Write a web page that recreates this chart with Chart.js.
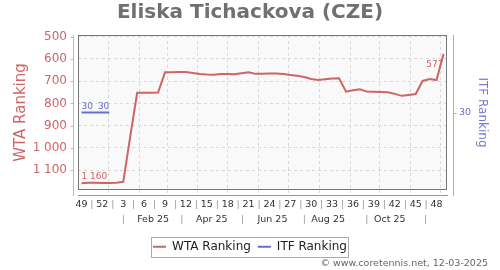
<!DOCTYPE html>
<html><head><meta charset="utf-8">
<script src="https://cdn.jsdelivr.net/npm/chart.js@4/dist/chart.umd.min.js"></script>
<style>html,body{margin:0;padding:0;background:#fff;}#wrap{width:500px;height:270px;position:relative;}</style>
</head><body><div id="wrap"><canvas id="c" width="500" height="270"></canvas></div>
<script>
// ---- data ----
const chartTitle = 'Eliska Tichackova (CZE)';
const footerText = '\u00A9 www.coretennis.net, 12-03-2025';
const startDate = '2024-12-05';
const weekNumbers = [49,50,51,52,1,2,3,4,5,6,7,8,9,10,11,12,13,14,15,16,17,18,19,20,21,22,23,24,25,26,27,28,29,30,31,32,33,34,35,36,37,38,39,40,41,42,43,44,45,46,47,48,49];
const wtaRanking = [1160,1157,1157,1158,1158,1157,1153,950,752,752,752,751,660,660,659,659,663,668,670,671,668,668,669,664,660,667,666,665,665,668,672,676,681,690,695,691,688,687,747,741,736,747,748,749,750,757,766,762,758,699,690,695,577];
const itfRanking = [30,30,30,30,30,null,null,null,null,null,null,null,null,null,null,null,null,null,null,null,null,null,null,null,null,null,null,null,null,null,null,null,null,null,null,null,null,null,null,null,null,null,null,null,null,null,null,null,null,null,null,null,null];
const wtaTicks = [500,600,700,800,900,1000,1100];
const itfTicks = [30];
const weekLabelEvery = 3;
const monthStarts = ['2025-01-01','2025-02-01','2025-03-01','2025-04-01','2025-05-01','2025-06-01','2025-07-01','2025-08-01','2025-09-01','2025-10-01','2025-11-01','2025-12-01'];
const monthLabels = ['Feb 25','Apr 25','Jun 25','Aug 25','Oct 25'];
const monthLabelDates = ['2025-02-15','2025-04-15','2025-06-15','2025-08-10','2025-10-11'];
const monthSepDates = ['2025-01-16','2025-03-16','2025-05-16','2025-07-17','2025-09-18','2025-11-16'];

// ---- helpers ----
const DAY = 86400000;
const toIdx = d => (Date.parse(d) - Date.parse(startDate)) / (7 * DAY);
const fmt = v => v >= 1000 ? Math.floor(v / 1000) + ' ' + String(v % 1000).padStart(3, '0') : String(v);
const N = wtaRanking.length;
const wtaColor = '#cc6666', itfColor = '#6b6bcc';
const FONT = 'DejaVu Sans';
Chart.defaults.font.family = FONT;

const weekTickVals = [];
for (let i = 0; i < N; i += weekLabelEvery) {
  weekTickVals.push(i);
  if (i + weekLabelEvery < N) weekTickVals.push(i + weekLabelEvery / 2);
}
const monthTickMap = new Map();
monthSepDates.forEach(d => monthTickMap.set(toIdx(d), '|'));
monthLabelDates.forEach((d, i) => monthTickMap.set(toIdx(d), monthLabels[i]));
const monthTickVals = [...monthTickMap.keys()].sort((a, b) => a - b);
const monthGridVals = monthStarts.map(toIdx);

const gridColor = '#d9d9d9';

const decor = {
  id: 'decor',
  beforeDraw(chart) {
    const {ctx, chartArea: a} = chart;
    ctx.save();
    ctx.fillStyle = '#f9f9f9';
    ctx.fillRect(a.left, a.top, a.right - a.left, a.bottom - a.top);
    ctx.restore();
  },
  beforeDatasetsDraw(chart) {
    const {ctx, chartArea: a, scales} = chart;
    ctx.save();
    ctx.strokeStyle = '#777';
    ctx.lineWidth = 1;
    ctx.strokeRect(Math.round(a.left) + 0.5, Math.round(a.top) + 0.5, Math.round(a.right - a.left) - 1, Math.round(a.bottom - a.top) - 1);
    const lx = Math.round(a.left) - 5 + 0.5;
    ctx.strokeStyle = '#dcaaaa';
    ctx.beginPath(); ctx.moveTo(lx, a.top); ctx.lineTo(lx, a.bottom + 6); ctx.stroke();
    wtaTicks.forEach(v => {
      const y = Math.round(scales.y.getPixelForValue(v)) + 0.5;
      ctx.beginPath(); ctx.moveTo(lx - 3, y); ctx.lineTo(lx, y); ctx.stroke();
    });
    const rx = Math.round(a.right) + 6 + 0.5;
    ctx.strokeStyle = '#aaaadd';
    ctx.beginPath(); ctx.moveTo(rx, a.top); ctx.lineTo(rx, a.bottom + 6); ctx.stroke();
    itfTicks.forEach(v => {
      const y = Math.round(scales.y2.getPixelForValue(v)) + 0.5;
      ctx.beginPath(); ctx.moveTo(rx, y); ctx.lineTo(rx + 3, y); ctx.stroke();
    });
    ctx.restore();
  },
  afterDatasetsDraw(chart) {
    const {ctx, chartArea: a} = chart;
    ctx.save();
    ctx.font = '9px ' + FONT;
    chart.data.datasets.forEach((ds, di) => {
      const meta = chart.getDatasetMeta(di);
      const raw = ds.rawValues;
      const idx = raw.map((v, i) => v == null ? -1 : i).filter(i => i >= 0);
      const f = idx[0], l = idx[idx.length - 1];
      ctx.fillStyle = ds.borderColor;
      [[f, 'left'], [l, 'right']].forEach(([i, al]) => {
        const p = meta.data[i];
        ctx.textAlign = al;
        ctx.textBaseline = 'alphabetic';
        const y = (p.y - 25 < a.top) ? p.y + 13 : p.y - 4;
        ctx.fillText(fmt(raw[i]), p.x, y);
      });
    });
    ctx.restore();
  },
  afterDraw(chart) {
    const {ctx} = chart;
    ctx.save();
    const hb = chart.legend.legendHitBoxes;
    if (hb && hb.length) {
      const x0 = hb[0].left - 2.5, x1 = hb[hb.length - 1].left + hb[hb.length - 1].width + 1;
      const y0 = hb[0].top - 4, y1 = hb[0].top + hb[0].height + 4;
      ctx.strokeStyle = '#aaa'; ctx.lineWidth = 1;
      ctx.strokeRect(Math.round(x0) + 0.5, Math.round(y0) + 0.5, Math.round(x1 - x0), Math.round(y1 - y0));
    }
    ctx.font = '9.5px ' + FONT;
    ctx.fillStyle = '#666';
    ctx.textAlign = 'right';
    ctx.textBaseline = 'middle';
    ctx.fillText(footerText, chart.width - 12, chart.height - 6.5);
    ctx.restore();
  }
};

new Chart(document.getElementById('c'), {
  type: 'line',
  data: {
    datasets: [
      {label: 'WTA Ranking', rawValues: wtaRanking, data: wtaRanking.map((v, i) => ({x: i, y: v})), xAxisID: 'x', yAxisID: 'y',
       borderColor: wtaColor, backgroundColor: wtaColor, borderWidth: 2, pointRadius: 0, tension: 0},
      {label: 'ITF Ranking', rawValues: itfRanking, data: itfRanking.map((v, i) => ({x: i, y: v})), xAxisID: 'x', yAxisID: 'y2',
       borderColor: itfColor, backgroundColor: itfColor, borderWidth: 2, pointRadius: 0, tension: 0}
    ]
  },
  options: {
    responsive: false, animation: false, devicePixelRatio: 1,
    layout: {padding: {left: 0, right: 0, top: 0, bottom: 7.3}},
    plugins: {
      title: {display: true, text: chartTitle, color: '#707070', font: {size: 20, weight: 'bold', family: FONT}, padding: {top: 1, bottom: 10}},
      legend: {position: 'bottom', labels: {usePointStyle: true, pointStyle: 'line', pointStyleWidth: 13, boxHeight: 12, padding: 7, color: '#222', font: {size: 12, family: FONT}}},
      tooltip: {enabled: false}
    },
    scales: {
      xg: {type: 'linear', position: 'bottom', weight: 0, min: -0.5, max: 52.5,
        afterBuildTicks: s => { s.ticks = monthGridVals.map(v => ({value: v})); },
        afterFit: s => { s.height = 5; },
        grid: {display: true, drawOnChartArea: true, drawTicks: true, tickLength: 5, color: gridColor, tickColor: gridColor, tickBorderDash: [3, 3]},
        border: {display: false, dash: [3, 3]},
        ticks: {display: false}},
      x: {type: 'linear', position: 'bottom', weight: 1, min: -0.5, max: 52.5,
        afterBuildTicks: s => { s.ticks = weekTickVals.map(v => ({value: v})); },
        afterFit: s => { s.height = 16; },
        grid: {display: true, drawOnChartArea: false, drawTicks: false},
        border: {display: true, color: '#999', width: 1},
        ticks: {autoSkip: false, maxRotation: 0, minRotation: 0, padding: 4, font: {size: 9.5},
          color: c => Number.isInteger(c.tick.value) ? '#333' : '#999',
          callback: v => Number.isInteger(v) ? String(weekNumbers[v]) : '|'}},
      x2: {type: 'linear', position: 'bottom', weight: 2, min: -0.5, max: 52.5,
        afterBuildTicks: s => { s.ticks = monthTickVals.map(v => ({value: v})); },
        afterFit: s => { s.height = 22.7; },
        grid: {display: false, drawOnChartArea: false, drawTicks: false},
        border: {display: false},
        ticks: {autoSkip: false, maxRotation: 0, minRotation: 0, padding: 3, font: {size: 9.5},
          color: c => monthTickMap.get(c.tick.value) === '|' ? '#999' : '#333',
          callback: v => monthTickMap.get(v)}},
      y: {type: 'linear', position: 'left', reverse: true, min: 492, max: 1190,
        afterBuildTicks: s => { s.ticks = wtaTicks.map(v => ({value: v})); },
        afterFit: s => { s.width = 78; },
        grid: {color: gridColor, drawTicks: false},
        border: {display: false, dash: [3, 3]},
        ticks: {padding: 11, color: wtaColor, font: {size: 12}, callback: v => fmt(v)},
        title: {display: true, text: 'WTA Ranking', color: wtaColor, font: {size: 15}, padding: {top: 12, bottom: 4}}},
      y2: {type: 'linear', position: 'right', min: 0, max: 60,
        afterBuildTicks: s => { s.ticks = itfTicks.map(v => ({value: v})); },
        afterFit: s => { s.width = 53; },
        grid: {drawOnChartArea: false, drawTicks: false},
        border: {display: false},
        ticks: {padding: 12, color: itfColor, font: {size: 9.5}},
        title: {display: true, text: 'ITF Ranking', color: '#7777cc', font: {size: 12}, padding: {top: 11, bottom: 4}}}
    }
  },
  plugins: [decor]
});
</script></body></html>
